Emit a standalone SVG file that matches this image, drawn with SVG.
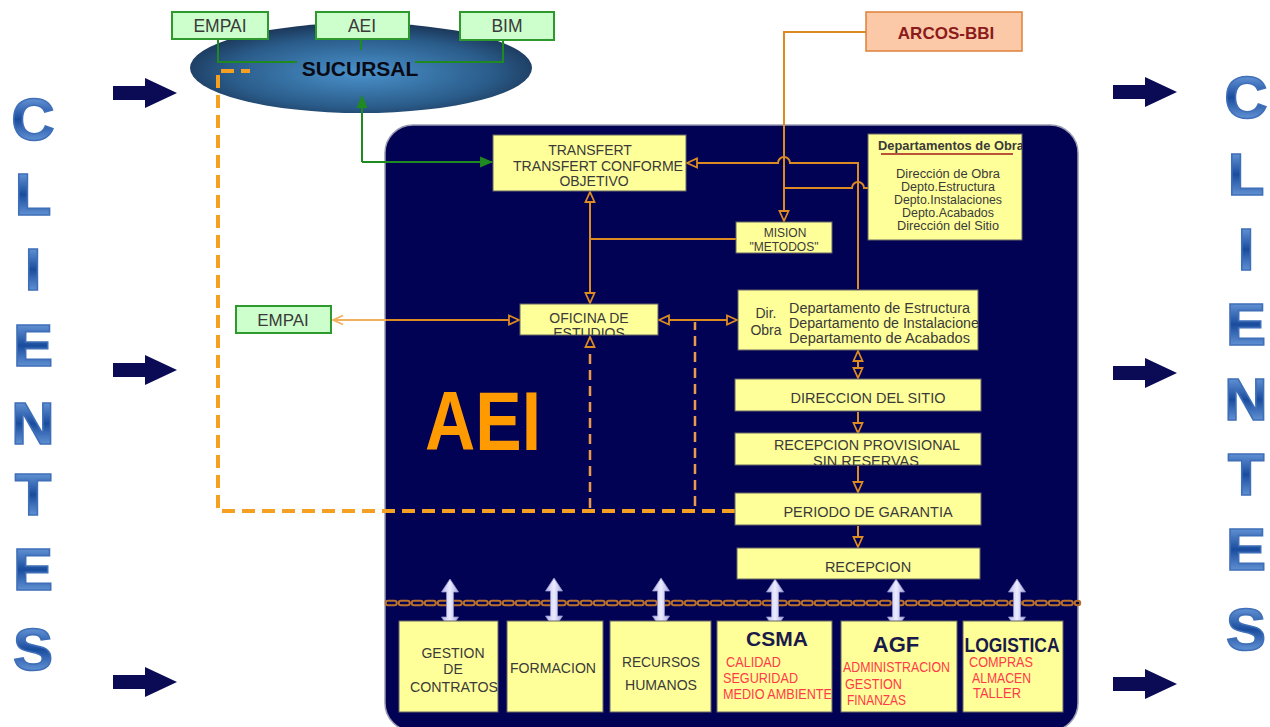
<svg xmlns="http://www.w3.org/2000/svg" width="1270" height="727" viewBox="0 0 1270 727">
<style>
.t{font-family:"Liberation Sans",Arial,sans-serif;fill:#3a3a3a}
.y{fill:#ffff99;stroke:#666;stroke-width:1}
.g{fill:#ccffcc;stroke:#2e9a2e;stroke-width:2}
.o{fill:none;stroke:#dc8a22;stroke-width:2}
.gl{fill:none;stroke:#1f8a1f;stroke-width:2}
.cl{font-family:"Liberation Sans",Arial,sans-serif;font-weight:bold;font-size:60px;fill:url(#lg);stroke:#3f6fb8;stroke-width:1.6}
.r{font-family:"Liberation Sans",Arial,sans-serif;fill:#ff3a4a;font-size:14px}
.b{font-family:"Liberation Sans",Arial,sans-serif;font-weight:bold;fill:#1a1a4a}
</style>
<defs>
<linearGradient id="lg" x1="0" y1="0" x2="0" y2="1">
<stop offset="0" stop-color="#8cbcf4"/><stop offset="0.5" stop-color="#1a4c9e"/><stop offset="1" stop-color="#8cbcf4"/>
</linearGradient>
<radialGradient id="eg" cx="0.5" cy="0.55" r="0.55">
<stop offset="0" stop-color="#4a92cc"/><stop offset="0.7" stop-color="#2a5c8a"/><stop offset="1" stop-color="#1b3658"/>
</radialGradient>
<linearGradient id="dg" x1="0" y1="0" x2="1" y2="0">
<stop offset="0" stop-color="#b8b8ee"/><stop offset="0.5" stop-color="#ececff"/><stop offset="1" stop-color="#a8a8e0"/>
</linearGradient>
<marker id="tri" viewBox="0 0 12 12" refX="11" refY="6" markerWidth="12" markerHeight="12" markerUnits="userSpaceOnUse" orient="auto-start-reverse">
<path d="M1,1.5 L11,6 L1,10.5 Z" fill="#020254" stroke="#dc8a22" stroke-width="1.8"/>
</marker>
<marker id="chev" viewBox="0 0 12 12" refX="11" refY="6" markerWidth="12" markerHeight="12" markerUnits="userSpaceOnUse" orient="auto-start-reverse">
<path d="M1,1.5 L11,6 L1,10.5" fill="none" stroke="#f0b060" stroke-width="1.8"/>
</marker>
<marker id="gar" viewBox="0 0 12 12" refX="11" refY="6" markerWidth="13" markerHeight="13" markerUnits="userSpaceOnUse" orient="auto-start-reverse">
<path d="M0,1 L12,6 L0,11 Z" fill="#1f8a1f"/>
</marker>
<path id="darr" d="M0,-7 L32,-7 L32,-15 L64,0 L32,15 L32,7 L0,7 Z" fill="#0b0b55"/>
<path id="varr" d="M0,0 L8.5,13 L3.5,13 L3.5,38 L8.5,38 L0,51 L-8.5,38 L-3.5,38 L-3.5,13 L-8.5,13 Z" fill="url(#dg)" stroke="#9090c8" stroke-width="0.8"/>
<clipPath id="cOf"><rect x="520" y="304" width="138" height="31"/></clipPath>
<clipPath id="cRp"><rect x="735" y="433" width="246" height="32"/></clipPath>
<clipPath id="cDo"><rect x="738" y="290" width="240" height="60"/></clipPath>
<clipPath id="cDp"><rect x="868" y="134" width="154" height="106"/></clipPath>
</defs>

<!-- CLIENTES side columns -->
<g id="clientes-left">
<text class="cl" x="33" y="140" text-anchor="middle">C</text>
<text class="cl" x="33" y="215" text-anchor="middle">L</text>
<text class="cl" x="33" y="290" text-anchor="middle">I</text>
<text class="cl" x="33" y="366" text-anchor="middle">E</text>
<text class="cl" x="33" y="444" text-anchor="middle">N</text>
<text class="cl" x="33" y="515" text-anchor="middle">T</text>
<text class="cl" x="33" y="590" text-anchor="middle">E</text>
<text class="cl" x="33" y="670" text-anchor="middle">S</text>
</g>
<g id="clientes-right">
<text class="cl" x="1246" y="118" text-anchor="middle">C</text>
<text class="cl" x="1246" y="195" text-anchor="middle">L</text>
<text class="cl" x="1246" y="270" text-anchor="middle">I</text>
<text class="cl" x="1246" y="345" text-anchor="middle">E</text>
<text class="cl" x="1246" y="420" text-anchor="middle">N</text>
<text class="cl" x="1246" y="495" text-anchor="middle">T</text>
<text class="cl" x="1246" y="570" text-anchor="middle">E</text>
<text class="cl" x="1246" y="650" text-anchor="middle">S</text>
</g>
<g id="client-arrows">
<use href="#darr" x="113" y="93"/>
<use href="#darr" x="113" y="370"/>
<use href="#darr" x="113" y="682"/>
<use href="#darr" x="1113" y="92"/>
<use href="#darr" x="1113" y="373"/>
<use href="#darr" x="1113" y="684"/>
</g>

<!-- AEI container -->
<g id="aei">
<rect x="385" y="125" width="693" height="606" rx="28" fill="#020254" stroke="#9a9ab0" stroke-width="1.5"/>
<text x="483" y="450" text-anchor="middle" font-family="Liberation Sans, Arial, sans-serif" font-weight="bold" font-size="84" fill="#ff9a00" textLength="116" lengthAdjust="spacingAndGlyphs">AEI</text>
</g>

<!-- SUCURSAL -->
<g id="sucursal">
<ellipse cx="361" cy="68" rx="171" ry="45" fill="url(#eg)"/>
<text x="360" y="76" text-anchor="middle" font-family="Liberation Sans, Arial, sans-serif" font-weight="bold" font-size="21" fill="#0a0a14">SUCURSAL</text>
</g>

<!-- connectors -->
<g id="connectors">
<path class="gl" d="M218,39 V62 H297"/>
<path class="gl" d="M503,40 V62 H415"/>
<path class="gl" d="M361,39 V50"/>
<path class="gl" d="M362,162 V96" marker-end="url(#gar)"/>
<path class="gl" d="M362,162 H492" marker-end="url(#gar)"/>
<path fill="none" stroke="#f5a020" stroke-width="4" stroke-dasharray="13 7" d="M735,511 H218 V71 H250"/>
<path fill="none" stroke="#eb9a48" stroke-width="2.5" stroke-dasharray="10 6" d="M590,508 V337" marker-end="url(#tri)"/>
<path fill="none" stroke="#eb9a48" stroke-width="2.5" stroke-dasharray="10 6" d="M695,506 V322"/>
<path class="o" d="M866,32 H784 V221" marker-end="url(#tri)"/>
<path class="o" d="M858,289 V163 H790 A6,6 0 0 0 778,163 H687" marker-end="url(#tri)"/>
<path class="o" d="M784,188 H852 A6,6 0 0 1 864,188 H868"/>
<path class="o" d="M590,192 V303" marker-start="url(#tri)" marker-end="url(#tri)"/>
<path class="o" d="M590,239 H736"/>
<path class="o" d="M659,320 H737" marker-start="url(#tri)" marker-end="url(#tri)"/>
<path fill="none" stroke="#f0b060" stroke-width="2" d="M333,320 H386" marker-start="url(#chev)"/>
<path class="o" d="M386,320 H519" marker-end="url(#tri)"/>
<path class="o" d="M858,351 V378" marker-start="url(#tri)" marker-end="url(#tri)"/>
<path class="o" d="M858,412 V433" marker-end="url(#tri)"/>
<path class="o" d="M858,466 V492" marker-end="url(#tri)"/>
<path class="o" d="M858,526 V547" marker-end="url(#tri)"/>
<line x1="388" y1="603" x2="1078" y2="603" stroke="#b8702c" stroke-width="6.5" stroke-linecap="round" stroke-dasharray="6.5 6.5"/>
<line x1="388" y1="603" x2="1078" y2="603" stroke="#020254" stroke-width="2.5" stroke-linecap="round" stroke-dasharray="6.5 6.5"/>
<use href="#varr" x="450" y="579"/>
<use href="#varr" x="554" y="578"/>
<use href="#varr" x="661" y="578"/>
<use href="#varr" x="775" y="579"/>
<use href="#varr" x="896" y="579"/>
<use href="#varr" x="1017" y="579"/>
</g>

<!-- top green boxes -->
<g id="top-empai"><rect class="g" x="172" y="12" width="96" height="27"/><text class="t" x="220" y="32" text-anchor="middle" font-size="17.5" fill="#222">EMPAI</text></g>
<g id="top-aei"><rect class="g" x="316" y="12" width="93" height="27"/><text class="t" x="362" y="32" text-anchor="middle" font-size="17.5">AEI</text></g>
<g id="top-bim"><rect class="g" x="460" y="12" width="94" height="28"/><text class="t" x="507" y="32" text-anchor="middle" font-size="17.5">BIM</text></g>

<g id="arcos"><rect x="866" y="12" width="156" height="39" fill="#fcc9a8" stroke="#e0803a" stroke-width="1.5"/><text x="946" y="39" text-anchor="middle" font-family="Liberation Sans, Arial, sans-serif" font-weight="bold" font-size="17" fill="#8b1a1a">ARCOS-BBI</text></g>

<g id="empai-mid"><rect class="g" x="236" y="306" width="95" height="27"/><text class="t" x="283" y="326" text-anchor="middle" font-size="17">EMPAI</text></g>

<g id="transfert"><rect class="y" x="493" y="135" width="193" height="56"/>
<text class="t" x="590" y="155" text-anchor="middle" font-size="14">TRANSFERT</text>
<text class="t" x="598" y="171" text-anchor="middle" font-size="14" textLength="170" lengthAdjust="spacingAndGlyphs">TRANSFERT  CONFORME</text>
<text class="t" x="594" y="186" text-anchor="middle" font-size="14">OBJETIVO</text></g>

<g id="mision"><rect class="y" x="736" y="222" width="96" height="31"/>
<text class="t" x="785" y="237" text-anchor="middle" font-size="12">MISION</text>
<text class="t" x="784" y="251" text-anchor="middle" font-size="12">"METODOS"</text></g>

<g id="deptos"><rect class="y" x="868" y="134" width="154" height="106"/>
<g clip-path="url(#cDp)">
<text class="t" x="878" y="150" font-size="12" font-weight="bold" fill="#1a1a4a" textLength="146" lengthAdjust="spacingAndGlyphs">Departamentos de Obra</text></g>
<line x1="881" y1="154" x2="1013" y2="154" stroke="#a01818" stroke-width="1.5"/>
<text class="t" x="948" y="178" text-anchor="middle" font-size="12.5" textLength="104" lengthAdjust="spacingAndGlyphs">Dirección de Obra</text>
<text class="t" x="948" y="191" text-anchor="middle" font-size="12.5" textLength="94" lengthAdjust="spacingAndGlyphs">Depto.Estructura</text>
<text class="t" x="948" y="204" text-anchor="middle" font-size="12.5" textLength="108" lengthAdjust="spacingAndGlyphs">Depto.Instalaciones</text>
<text class="t" x="948" y="217" text-anchor="middle" font-size="12.5" textLength="92" lengthAdjust="spacingAndGlyphs">Depto.Acabados</text>
<text class="t" x="948" y="230" text-anchor="middle" font-size="12.5" textLength="102" lengthAdjust="spacingAndGlyphs">Dirección del Sitio</text></g>

<g id="oficina"><rect class="y" x="520" y="304" width="138" height="31"/>
<g clip-path="url(#cOf)">
<text class="t" x="589" y="323" text-anchor="middle" font-size="14">OFICINA DE</text>
<text class="t" x="589" y="338" text-anchor="middle" font-size="14">ESTUDIOS</text></g></g>

<g id="dirobra"><rect class="y" x="738" y="290" width="240" height="60"/>
<g clip-path="url(#cDo)">
<text class="t" x="766" y="318" text-anchor="middle" font-size="14">Dir.</text>
<text class="t" x="766" y="335" text-anchor="middle" font-size="14">Obra</text>
<text class="t" x="789" y="313" font-size="14" textLength="181" lengthAdjust="spacingAndGlyphs">Departamento  de Estructura</text>
<text class="t" x="789" y="328" font-size="14" textLength="197" lengthAdjust="spacingAndGlyphs">Departamento  de Instalaciones</text>
<text class="t" x="789" y="343" font-size="14" textLength="181" lengthAdjust="spacingAndGlyphs">Departamento  de Acabados</text></g></g>

<g id="direccion"><rect class="y" x="735" y="379" width="246" height="32"/>
<text class="t" x="868" y="403" text-anchor="middle" font-size="14.5">DIRECCION  DEL SITIO</text></g>

<g id="recprov"><rect class="y" x="735" y="433" width="246" height="32"/>
<g clip-path="url(#cRp)">
<text class="t" x="867" y="450" text-anchor="middle" font-size="14.5" textLength="186" lengthAdjust="spacingAndGlyphs">RECEPCION  PROVISIONAL</text>
<text class="t" x="866" y="466" text-anchor="middle" font-size="14.5">SIN RESERVAS</text></g></g>

<g id="periodo"><rect class="y" x="735" y="493" width="246" height="32"/>
<text class="t" x="868" y="517" text-anchor="middle" font-size="14.5">PERIODO  DE GARANTIA</text></g>

<g id="recepcion"><rect class="y" x="737" y="548" width="243" height="31"/>
<text class="t" x="868" y="572" text-anchor="middle" font-size="14.5">RECEPCION</text></g>

<g id="gestion"><rect class="y" x="399" y="621" width="99" height="91"/>
<text class="t" x="453" y="658" text-anchor="middle" font-size="14">GESTION</text>
<text class="t" x="453" y="674" text-anchor="middle" font-size="14">DE</text>
<text class="t" x="454" y="692" text-anchor="middle" font-size="14" textLength="88" lengthAdjust="spacingAndGlyphs">CONTRATOS</text></g>

<g id="formacion"><rect class="y" x="507" y="621" width="96" height="91"/>
<text class="t" x="553" y="673" text-anchor="middle" font-size="14" textLength="86" lengthAdjust="spacingAndGlyphs">FORMACION</text></g>

<g id="recursos"><rect class="y" x="610" y="621" width="101" height="91"/>
<text class="t" x="661" y="667" text-anchor="middle" font-size="14" textLength="78" lengthAdjust="spacingAndGlyphs">RECURSOS</text>
<text class="t" x="661" y="690" text-anchor="middle" font-size="14" textLength="72" lengthAdjust="spacingAndGlyphs">HUMANOS</text></g>

<g id="csma"><rect class="y" x="717" y="621" width="115" height="91"/>
<text class="b" x="777" y="646" text-anchor="middle" font-size="21">CSMA</text>
<text class="r" x="726" y="667" textLength="55" lengthAdjust="spacingAndGlyphs">CALIDAD</text>
<text class="r" x="723" y="683" textLength="75" lengthAdjust="spacingAndGlyphs">SEGURIDAD</text>
<text class="r" x="723" y="699" textLength="109" lengthAdjust="spacingAndGlyphs">MEDIO AMBIENTE</text></g>

<g id="agf"><rect class="y" x="841" y="621" width="116" height="91"/>
<text class="b" x="896" y="652" text-anchor="middle" font-size="22">AGF</text>
<text class="r" x="843" y="672" textLength="107" lengthAdjust="spacingAndGlyphs">ADMINISTRACION</text>
<text class="r" x="845" y="689" textLength="57" lengthAdjust="spacingAndGlyphs">GESTION</text>
<text class="r" x="847" y="705" textLength="59" lengthAdjust="spacingAndGlyphs">FINANZAS</text></g>

<g id="logistica"><rect class="y" x="963" y="621" width="100" height="91"/>
<text class="b" x="1012" y="652" text-anchor="middle" font-size="21" textLength="95" lengthAdjust="spacingAndGlyphs">LOGISTICA</text>
<text class="r" x="969" y="667" textLength="64" lengthAdjust="spacingAndGlyphs">COMPRAS</text>
<text class="r" x="972" y="683" textLength="59" lengthAdjust="spacingAndGlyphs">ALMACEN</text>
<text class="r" x="973" y="698" textLength="48" lengthAdjust="spacingAndGlyphs">TALLER</text></g>
</svg>
